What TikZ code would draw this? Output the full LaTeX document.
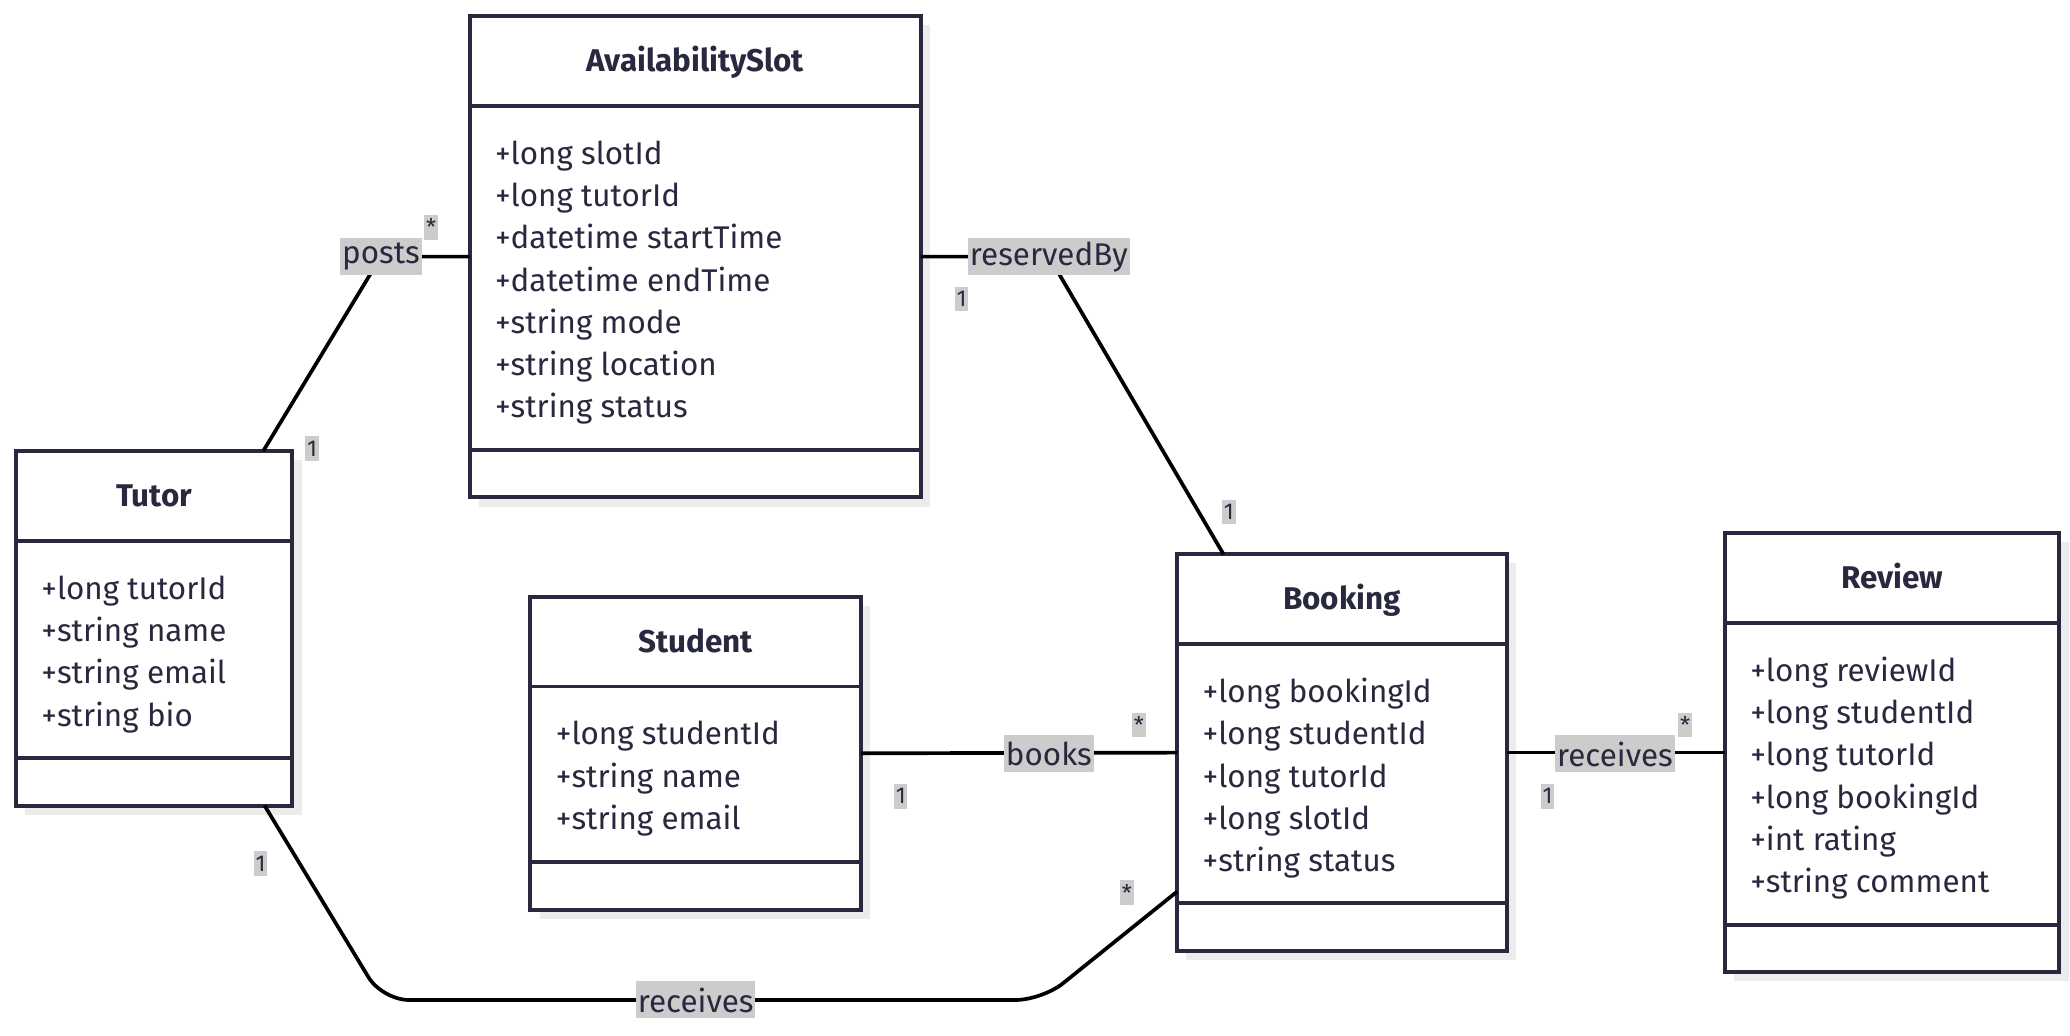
\documentclass[tikz,border=0pt]{standalone}
\usepackage{fontspec}
\setmainfont{Fira Sans}
\usetikzlibrary{fit,calc,backgrounds}
\definecolor{ink}{HTML}{28283F}
\definecolor{shadowgray}{HTML}{ECECEC}
\definecolor{lbl}{HTML}{CCCCCC}
\tikzset{
  classbox/.style={draw=ink, line width=2.25pt, fill=white, inner sep=0pt, outer sep=0pt},
  divider/.style={draw=ink, line width=2.25pt},
  conn/.style={draw=black, line width=2.1pt},
  attr/.style={anchor=base west, text=ink, font=\fontsize{17.8}{21}\selectfont, inner sep=0pt},
  ttl/.style={anchor=base, text=ink, font=\fontsize{17.8}{21}\selectfont\bfseries, inner sep=0pt},
  rel/.style={fill=lbl, text=ink, font=\fontsize{17.8}{21}\selectfont, inner xsep=1pt, inner ysep=0pt, minimum height=21pt},
  card/.style={fill=lbl, text=ink, font=\fontsize{13}{15}\selectfont, inner xsep=1pt, inner ysep=0pt, minimum height=14pt},
}
\newcommand\umlbox[6]{%
  \node[classbox, fit={(#2,#3) (#4,#5)}] (#1) {};
  \draw[divider] ($(#1.north west)+(0,68)$) -- ($(#1.north east)+(0,68)$);
  \draw[divider] ($(#1.south west)+(0,-36)$) -- ($(#1.south east)+(0,-36)$);
  \node[ttl] (#1-title) at ($(#1.north)+(0,42)$) {#6};
  \begin{scope}[on background layer]
    \fill[shadowgray] ($(#1.north west)+(7,7)$) rectangle ($(#1.south east)+(7,7)$);
  \end{scope}
}
\newcommand\umlattrs[2]{%
  \foreach \t [count=\i from 0] in {#2}
    \node[attr] (#1-a\i) at ($(#1.north west)+(19,112+32*\i)$) {\t};
}
\begin{document}
\begin{tikzpicture}[x=0.75pt,y=-0.75pt]
\useasboundingbox (0,0) rectangle (1565,783);

\umlbox{slot}{355}{12}{696}{376}{AvailabilitySlot}
\umlattrs{slot}{+long slotId,+long tutorId,+datetime startTime,+datetime endTime,+string mode,+string location,+string status}

\umlbox{tutor}{12}{341}{221}{609}{Tutor}
\umlattrs{tutor}{+long tutorId,+string name,+string email,+string bio}

\umlbox{student}{401}{451}{651}{688}{Student}
\umlattrs{student}{+long studentId,+string name,+string email}

\umlbox{booking}{890}{419}{1139}{719}{Booking}
\umlattrs{booking}{+long bookingId,+long studentId,+long tutorId,+long slotId,+string status}

\umlbox{review}{1304}{403}{1557}{735}{Review}
\umlattrs{review}{+long reviewId,+long studentId,+long tutorId,+long bookingId,+int rating,+string comment}

% label anchor coordinates
\coordinate (postsC) at (288,194);
\coordinate (resC) at (793,194);
\coordinate (tbC) at (526,756);

% connectors
\draw[conn] ($(tutor.north west)+(187,0)$) -- (postsC) -- (slot.west);
\draw[conn] (slot.east) -- (resC) -- ($(booking.north west)+(35,0)$);
\draw[conn] (student.east) -- (booking.west);
\draw[conn] (booking.east) -- (review.west);
\draw[conn, rounded corners=15pt] ($(tutor.south west)+(188,0)$) -- (289,756) -- (788,756) -- ($(booking.south west)+(0,-45)$);

% relation labels
\node[rel] (posts) at (postsC) {posts};
\node[rel] (reservedBy) at (resC) {reservedBy};
\node[rel] (books) at (793,570) {books};
\node[rel] (receives1) at (1221,570) {receives};
\node[rel] (receives2) at (tbC) {receives};

% cardinalities
\node[card] (c1) at (326,172) {*};
\node[card] (c2) at (236,339) {1};
\node[card] (c3) at (727,226) {1};
\node[card] (c4) at (929,387) {1};
\node[card] (c5) at (681,602) {1};
\node[card] (c6) at (861,548) {*};
\node[card] (c7) at (1170,602) {1};
\node[card] (c8) at (1274,548) {*};
\node[card] (c9) at (197,653) {1};
\node[card] (c10) at (852,675) {*};
\end{tikzpicture}
\end{document}
